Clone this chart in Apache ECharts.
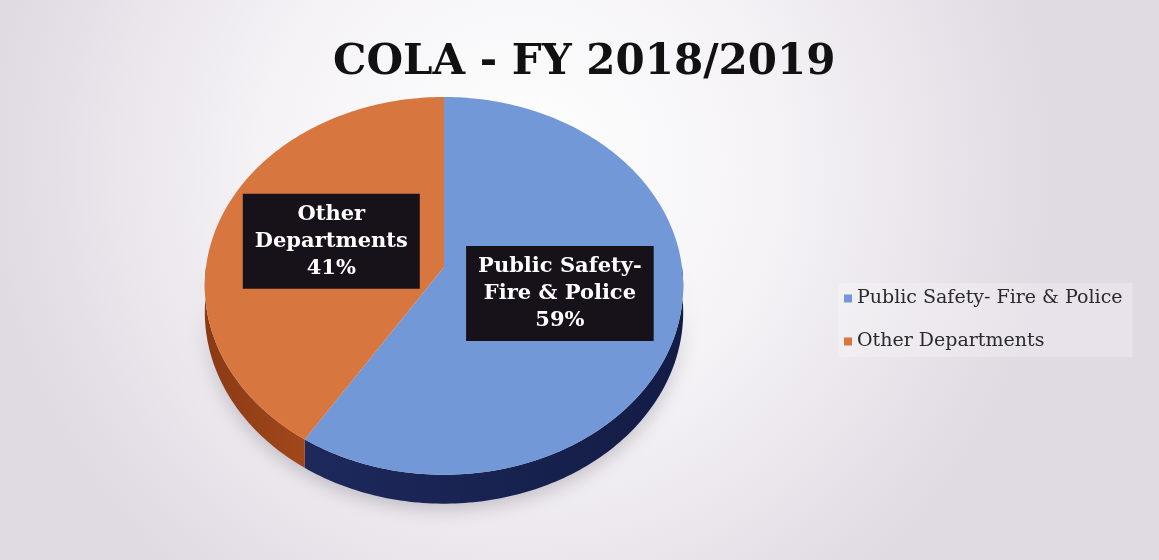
<!DOCTYPE html>
<html>
<head>
<meta charset="utf-8">
<script src="https://cdn.jsdelivr.net/npm/echarts@6/dist/echarts.min.js"></script>
<style>
  html, body { margin: 0; padding: 0; background: #ffffff; }
  #chart { width: 1159px; height: 560px; }
</style>
</head>
<body>
<div id="chart"></div>
<script>
// Budget split of the cost-of-living adjustment
const categories = ['Public Safety- Fire & Police', 'Other Departments'];
const shares = [59, 41];
const sliceLabels = ['Public Safety-\nFire & Police', 'Other\nDepartments'];

const topColors = ['#7398d8', '#d7763e'];
const sideColors = ['#1d295c', '#a2471b'];
const sideShade = ['#131c45', '#8a3a14'];

// Tilted disc: centre, radii, perspective factor and thickness
const disc = { cx: 444, cy: 267, rx: 238, ry: 187, persp: 0.1, depth: 26 };
const total = shares.reduce((a, b) => a + b, 0);

function project(u, v, drop) {
  const k = 1 / (1 - disc.persp * v);
  return [disc.cx + disc.rx * u * k, disc.cy + (disc.ry * v + drop) * k];
}
// angle in degrees, clockwise from 12 o'clock; r as a fraction of the radius
function rimPoint(deg, r, drop) {
  const a = deg * Math.PI / 180;
  return project(r * Math.sin(a), -r * Math.cos(a), drop || 0);
}
function arc(a0, a1, drop) {
  const pts = [];
  const n = Math.max(2, Math.ceil(Math.abs(a1 - a0)));
  for (let j = 0; j <= n; j++) pts.push(rimPoint(a0 + (a1 - a0) * j / n, 1, drop));
  return pts;
}

function makeRenderer(i) {
  return function (params, api) {
    const before = shares.slice(0, i).reduce((a, b) => a + b, 0);
    const a0 = before / total * 360;
    const a1 = a0 + api.value(0) / total * 360;
    const children = [];

    // visible front wall
    const w0 = Math.max(a0, 90), w1 = Math.min(a1, 270);
    if (w1 > w0) {
      const pts = arc(w0, w1, 0).concat(arc(w0, w1, disc.depth).reverse());
      children.push({
        type: 'polygon',
        shape: { points: pts },
        style: {
          fill: new echarts.graphic.LinearGradient(0, 0, 1, 0, [
            { offset: 0, color: i === 0 ? sideColors[i] : sideShade[i] },
            { offset: 1, color: i === 0 ? sideShade[i] : sideColors[i] }
          ]),
          shadowBlur: 18, shadowColor: 'rgba(60,50,70,0.25)', shadowOffsetY: 6
        },
        z2: 1
      });
    }

    // top face
    const face = [rimPoint(0, 0, 0)].concat(arc(a0, a1, 0));
    children.push({
      type: 'polygon',
      shape: { points: face },
      style: { fill: topColors[i] },
      z2: 2
    });

    // boxed label
    const mid = (a0 + a1) / 2;
    const p = rimPoint(mid, 0.5, 0);
    children.push({
      type: 'text',
      x: p[0], y: p[1],
      style: {
        text: sliceLabels[i] + '\n' + Math.round(api.value(0) / total * 100) + '%',
        fill: '#ffffff',
        font: 'bold 21px "DejaVu Serif"',
        lineHeight: 27,
        align: 'center',
        verticalAlign: 'middle',
        backgroundColor: '#171219',
        padding: [7, 12, 7, 12],
        boxShadowBlur: 6,
        boxShadowColor: 'rgba(0,0,0,0.35)'
      },
      z2: 10
    });

    return { type: 'group', children: children };
  };
}

const chart = echarts.init(document.getElementById('chart'), null, { renderer: 'canvas' });

chart.setOption({
  backgroundColor: new echarts.graphic.RadialGradient(0.45, 0.3, 0.95, [
    { offset: 0, color: '#ffffff' },
    { offset: 0.5, color: '#f4f2f5' },
    { offset: 1, color: '#e0dae3' }
  ]),
  animation: false,
  title: {
    text: 'COLA - FY 2018/2019',
    left: 333,
    top: 42,
    padding: 0,
    textStyle: {
      fontFamily: '"DejaVu Serif"',
      fontWeight: 'bold',
      fontSize: 42,
      color: '#111111'
    }
  },
  legend: {
    orient: 'vertical',
    left: 838,
    top: 283,
    icon: 'rect',
    itemWidth: 8,
    itemHeight: 8,
    itemGap: 24,
    padding: [6, 10, 6, 6],
    backgroundColor: 'rgba(255,255,255,0.25)',
    data: categories,
    textStyle: {
      fontFamily: '"DejaVu Serif"',
      fontSize: 19,
      color: '#2a2a2a'
    }
  },
  series: categories.map((name, i) => ({
    type: 'custom',
    name: name,
    coordinateSystem: 'none',
    itemStyle: { color: topColors[i] },
    renderItem: makeRenderer(i),
    data: [[shares[i]]]
  }))
});
</script>
</body>
</html>
